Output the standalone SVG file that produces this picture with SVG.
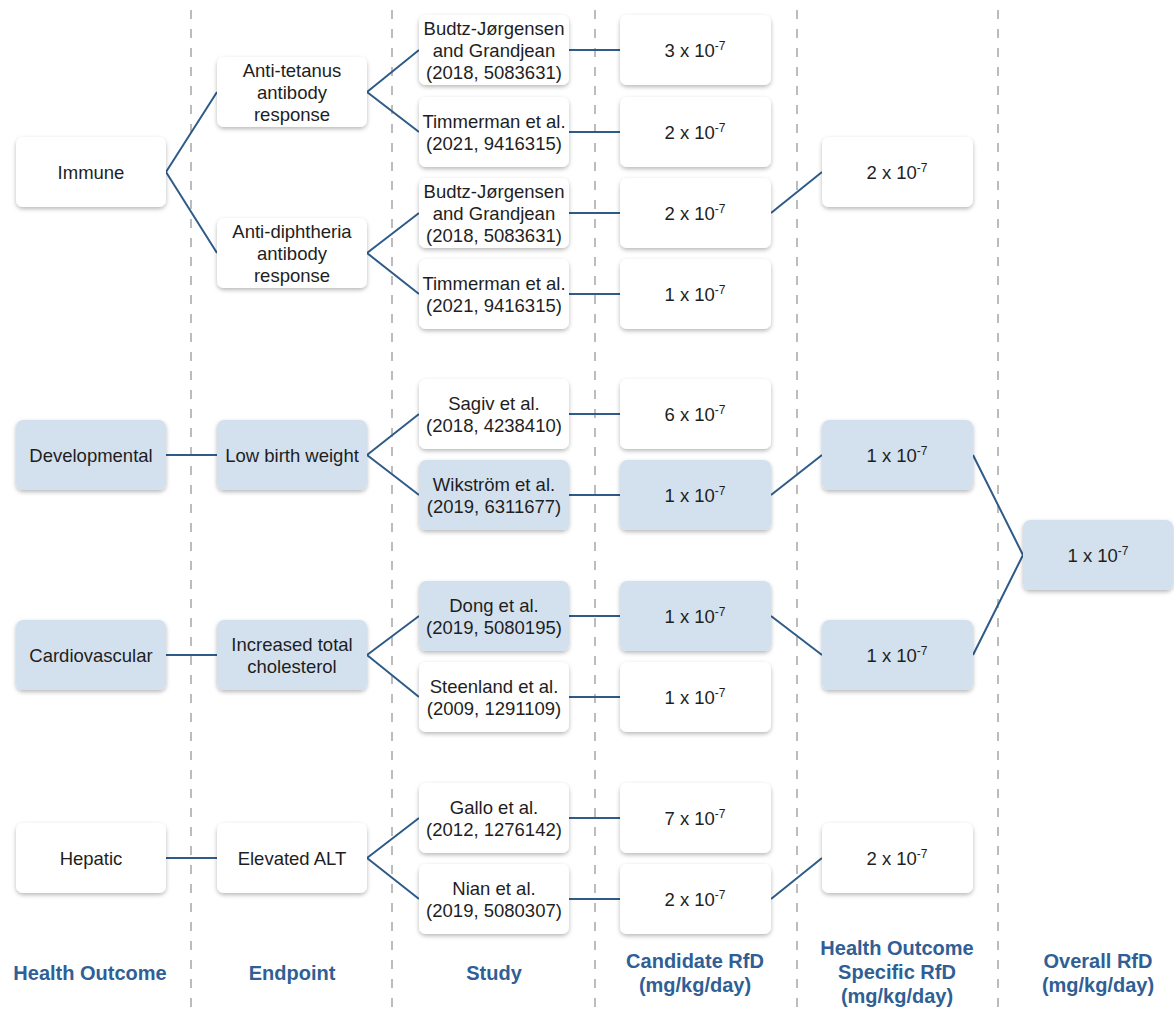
<svg xmlns="http://www.w3.org/2000/svg" width="1174" height="1012" viewBox="0 0 1174 1012">
<defs>
<filter id="sh" x="-10%" y="-10%" width="120%" height="130%">
<feDropShadow dx="0" dy="2" stdDeviation="2" flood-color="#000" flood-opacity="0.28"/>
</filter>
<style>
.bw{fill:#ffffff;filter:url(#sh)}
.bb{fill:#d3e1ef;filter:url(#sh)}
.t{font-family:"Liberation Sans",Arial,sans-serif;font-size:18.5px;fill:#1e1e1e;text-anchor:middle}
.sup{font-size:12px}
.h{font-family:"Liberation Sans",Arial,sans-serif;font-size:20px;font-weight:bold;fill:#2f5f95;text-anchor:middle}
.dash{stroke:#bcbcbc;stroke-width:2;stroke-dasharray:9 10}
.c{stroke:#2e5b88;stroke-width:2;fill:none}
</style>
</defs>
<rect width="1174" height="1012" fill="#fff"/>
<g id="dividers">
<line class="dash" x1="191" y1="10" x2="191" y2="1012"/>
<line class="dash" x1="392" y1="10" x2="392" y2="1012"/>
<line class="dash" x1="595" y1="10" x2="595" y2="1012"/>
<line class="dash" x1="797" y1="10" x2="797" y2="1012"/>
<line class="dash" x1="998" y1="10" x2="998" y2="1012"/>
</g>
<g id="connectors">
<path class="c" d="M166 172 L217 92 M166 172 L217 253"/>
<path class="c" d="M367 92 L419 50 M367 92 L419 132"/>
<path class="c" d="M367 253 L419 213 M367 253 L419 294"/>
<path class="c" d="M166 455 L217 455"/>
<path class="c" d="M367 455 L419 414 M367 455 L419 495"/>
<path class="c" d="M166 655 L217 655"/>
<path class="c" d="M367 655 L419 616 M367 655 L419 697"/>
<path class="c" d="M166 858 L217 858"/>
<path class="c" d="M367 858 L419 818 M367 858 L419 899"/>
<path class="c" d="M569 50 L620 50 M569 132 L620 132 M569 213 L620 213 M569 294 L620 294 M569 414 L620 414 M569 495 L620 495 M569 616 L620 616 M569 697 L620 697 M569 818 L620 818 M569 899 L620 899"/>
<path class="c" d="M771 213 L822 172"/>
<path class="c" d="M771 495 L822 455"/>
<path class="c" d="M771 616 L822 655"/>
<path class="c" d="M771 899 L822 858"/>
<path class="c" d="M973 455 L1023 555 L973 655"/>
</g>
<g id="n-immune"><rect class="bw" x="16" y="137" width="150" height="70" rx="7"/><text class="t" x="91" y="179">Immune</text></g>
<g id="n-developmental"><rect class="bb" x="16" y="420" width="150" height="70" rx="7"/><text class="t" x="91" y="462">Developmental</text></g>
<g id="n-cardiovascular"><rect class="bb" x="16" y="620" width="150" height="70" rx="7"/><text class="t" x="91" y="662">Cardiovascular</text></g>
<g id="n-hepatic"><rect class="bw" x="16" y="823" width="150" height="70" rx="7"/><text class="t" x="91" y="865">Hepatic</text></g>

<g id="n-antitetanus"><rect class="bw" x="217" y="57" width="150" height="70" rx="7"/><text class="t" x="292" y="77">Anti-tetanus</text><text class="t" x="292" y="99">antibody</text><text class="t" x="292" y="121">response</text></g>
<g id="n-antidiphtheria"><rect class="bw" x="217" y="218" width="150" height="70" rx="7"/><text class="t" x="292" y="238">Anti-diphtheria</text><text class="t" x="292" y="260">antibody</text><text class="t" x="292" y="282">response</text></g>
<g id="n-lbw"><rect class="bb" x="217" y="420" width="150" height="70" rx="7"/><text class="t" x="292" y="462">Low birth weight</text></g>
<g id="n-itc"><rect class="bb" x="217" y="620" width="150" height="70" rx="7"/><text class="t" x="292" y="651">Increased total</text><text class="t" x="292" y="673">cholesterol</text></g>
<g id="n-alt"><rect class="bw" x="217" y="823" width="150" height="70" rx="7"/><text class="t" x="292" y="865">Elevated ALT</text></g>

<g id="s-budtz1"><rect class="bw" x="419" y="15" width="150" height="70" rx="7"/><text class="t" x="494" y="35">Budtz-Jørgensen</text><text class="t" x="494" y="57">and Grandjean</text><text class="t" x="494" y="79">(2018, 5083631)</text></g>
<g id="s-timmerman1"><rect class="bw" x="419" y="97" width="150" height="70" rx="7"/><text class="t" x="494" y="128">Timmerman et al.</text><text class="t" x="494" y="150">(2021, 9416315)</text></g>
<g id="s-budtz2"><rect class="bw" x="419" y="178" width="150" height="70" rx="7"/><text class="t" x="494" y="198">Budtz-Jørgensen</text><text class="t" x="494" y="220">and Grandjean</text><text class="t" x="494" y="242">(2018, 5083631)</text></g>
<g id="s-timmerman2"><rect class="bw" x="419" y="259" width="150" height="70" rx="7"/><text class="t" x="494" y="290">Timmerman et al.</text><text class="t" x="494" y="312">(2021, 9416315)</text></g>
<g id="s-sagiv"><rect class="bw" x="419" y="379" width="150" height="70" rx="7"/><text class="t" x="494" y="410">Sagiv et al.</text><text class="t" x="494" y="432">(2018, 4238410)</text></g>
<g id="s-wikstrom"><rect class="bb" x="419" y="460" width="150" height="70" rx="7"/><text class="t" x="494" y="491">Wikström et al.</text><text class="t" x="494" y="513">(2019, 6311677)</text></g>
<g id="s-dong"><rect class="bb" x="419" y="581" width="150" height="70" rx="7"/><text class="t" x="494" y="612">Dong et al.</text><text class="t" x="494" y="634">(2019, 5080195)</text></g>
<g id="s-steenland"><rect class="bw" x="419" y="662" width="150" height="70" rx="7"/><text class="t" x="494" y="693">Steenland et al.</text><text class="t" x="494" y="715">(2009, 1291109)</text></g>
<g id="s-gallo"><rect class="bw" x="419" y="783" width="150" height="70" rx="7"/><text class="t" x="494" y="814">Gallo et al.</text><text class="t" x="494" y="836">(2012, 1276142)</text></g>
<g id="s-nian"><rect class="bw" x="419" y="864" width="150" height="70" rx="7"/><text class="t" x="494" y="895">Nian et al.</text><text class="t" x="494" y="917">(2019, 5080307)</text></g>

<g id="c1"><rect class="bw" x="620" y="15" width="151" height="70" rx="7"/><text class="t" x="695" y="57">3 x 10<tspan class="sup" dy="-7">-7</tspan></text></g>
<g id="c2"><rect class="bw" x="620" y="97" width="151" height="70" rx="7"/><text class="t" x="695" y="139">2 x 10<tspan class="sup" dy="-7">-7</tspan></text></g>
<g id="c3"><rect class="bw" x="620" y="178" width="151" height="70" rx="7"/><text class="t" x="695" y="220">2 x 10<tspan class="sup" dy="-7">-7</tspan></text></g>
<g id="c4"><rect class="bw" x="620" y="259" width="151" height="70" rx="7"/><text class="t" x="695" y="301">1 x 10<tspan class="sup" dy="-7">-7</tspan></text></g>
<g id="c5"><rect class="bw" x="620" y="379" width="151" height="70" rx="7"/><text class="t" x="695" y="421">6 x 10<tspan class="sup" dy="-7">-7</tspan></text></g>
<g id="c6"><rect class="bb" x="620" y="460" width="151" height="70" rx="7"/><text class="t" x="695" y="502">1 x 10<tspan class="sup" dy="-7">-7</tspan></text></g>
<g id="c7"><rect class="bb" x="620" y="581" width="151" height="70" rx="7"/><text class="t" x="695" y="623">1 x 10<tspan class="sup" dy="-7">-7</tspan></text></g>
<g id="c8"><rect class="bw" x="620" y="662" width="151" height="70" rx="7"/><text class="t" x="695" y="704">1 x 10<tspan class="sup" dy="-7">-7</tspan></text></g>
<g id="c9"><rect class="bw" x="620" y="783" width="151" height="70" rx="7"/><text class="t" x="695" y="825">7 x 10<tspan class="sup" dy="-7">-7</tspan></text></g>
<g id="c10"><rect class="bw" x="620" y="864" width="151" height="70" rx="7"/><text class="t" x="695" y="906">2 x 10<tspan class="sup" dy="-7">-7</tspan></text></g>

<g id="ho-immune"><rect class="bw" x="822" y="137" width="151" height="70" rx="7"/><text class="t" x="897" y="179">2 x 10<tspan class="sup" dy="-7">-7</tspan></text></g>
<g id="ho-dev"><rect class="bb" x="822" y="420" width="151" height="70" rx="7"/><text class="t" x="897" y="462">1 x 10<tspan class="sup" dy="-7">-7</tspan></text></g>
<g id="ho-cardio"><rect class="bb" x="822" y="620" width="151" height="70" rx="7"/><text class="t" x="897" y="662">1 x 10<tspan class="sup" dy="-7">-7</tspan></text></g>
<g id="ho-hepatic"><rect class="bw" x="822" y="823" width="151" height="70" rx="7"/><text class="t" x="897" y="865">2 x 10<tspan class="sup" dy="-7">-7</tspan></text></g>

<g id="overall"><rect class="bb" x="1023" y="520" width="150" height="70" rx="7"/><text class="t" x="1098" y="562">1 x 10<tspan class="sup" dy="-7">-7</tspan></text></g>

<g id="headers">
<text class="h" x="90" y="980">Health Outcome</text>
<text class="h" x="292" y="980">Endpoint</text>
<text class="h" x="494" y="980">Study</text>
<text class="h" x="695" y="968">Candidate RfD</text>
<text class="h" x="695" y="992">(mg/kg/day)</text>
<text class="h" x="897" y="955">Health Outcome</text>
<text class="h" x="897" y="979">Specific RfD</text>
<text class="h" x="897" y="1003">(mg/kg/day)</text>
<text class="h" x="1098" y="968">Overall RfD</text>
<text class="h" x="1098" y="992">(mg/kg/day)</text>
</g>
</svg>
